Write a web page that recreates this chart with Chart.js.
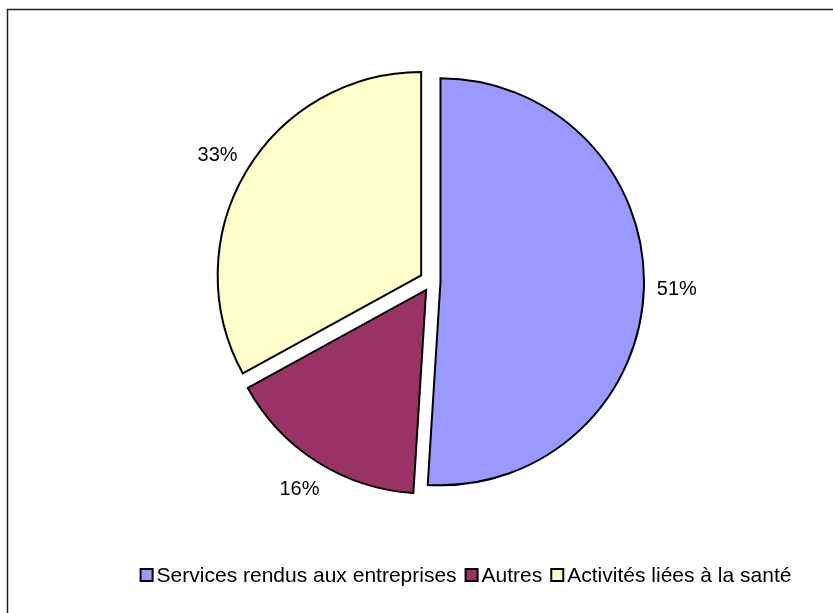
<!DOCTYPE html>
<html>
<head>
<meta charset="utf-8">
<script src="https://cdn.jsdelivr.net/npm/chart.js@4.4.0/dist/chart.umd.min.js"></script>
<style>
    html, body { margin: 0; padding: 0; background: #fff; }
    #wrap { position: relative; width: 833px; height: 613px; }
</style>
</head>
<body>
<div id="wrap"><canvas id="pieChart"></canvas></div>
<script>
// données du graphique
const categories = ['Services rendus aux entreprises', 'Autres', 'Activités liées à la santé'];
const valeurs = [51, 16, 33];
const couleurs = ['#9999FF', '#993366', '#FFFFCC'];

const police = '"Liberation Sans", Arial, sans-serif';

// éclatement des parts (px), appliqué à la main car l'offset de chart.js v4 agrandit aussi le rayon
const eclatement = [9, 10, 12];

const eclater = {
    id: 'eclater',
    afterDatasetsUpdate: function(chart) {
        const meta = chart.getDatasetMeta(0);
        meta.data.forEach(function(arc, i) {
            const mid = (arc.startAngle + arc.endAngle) / 2;
            arc.x += Math.cos(mid) * eclatement[i];
            arc.y += Math.sin(mid) * eclatement[i];
        });
    }
};

// cadre autour du graphique
const cadre = {
    id: 'cadre',
    beforeDraw: function(chart) {
        const ctx = chart.ctx;
        ctx.save();
        ctx.strokeStyle = '#222';
        ctx.lineWidth = 1.5;
        ctx.strokeRect(7.5, 9.5, 1000, 800);
        ctx.restore();
    }
};

// pourcentages à l'extérieur des parts
const etiquettes = {
    id: 'etiquettes',
    afterDatasetsDraw: function(chart) {
        const ctx = chart.ctx;
        const meta = chart.getDatasetMeta(0);
        const total = valeurs.reduce((a, b) => a + b, 0);
        ctx.save();
        ctx.font = '20px ' + police;
        ctx.fillStyle = '#000';
        ctx.textAlign = 'center';
        ctx.textBaseline = 'middle';
        meta.data.forEach(function(arc, i) {
            const mid = (arc.startAngle + arc.endAngle) / 2;
            const d = arc.outerRadius + 33;
            const pct = Math.round(valeurs[i] / total * 100) + '%';
            ctx.fillText(pct, arc.x + Math.cos(mid) * d, arc.y + Math.sin(mid) * d);
        });
        ctx.restore();
    }
};

// légende en bas, carrés serrés comme dans Excel
const legende = {
    id: 'legende',
    afterDraw: function(chart) {
        const ctx = chart.ctx;
        const box = 12, gapTexte = 4, gapItem = 9;
        const y = 575;
        ctx.save();
        ctx.font = '21px ' + police;
        ctx.textBaseline = 'middle';
        ctx.textAlign = 'left';
        let largeur = 0;
        categories.forEach(function(c, i) {
            largeur += box + gapTexte + ctx.measureText(c).width + (i < categories.length - 1 ? gapItem : 0);
        });
        let x = 466 - largeur / 2;
        categories.forEach(function(c, i) {
            ctx.fillStyle = couleurs[i];
            ctx.fillRect(x, y - box / 2, box, box);
            ctx.strokeStyle = '#000';
            ctx.lineWidth = 2;
            ctx.strokeRect(x, y - box / 2, box, box);
            x += box + gapTexte;
            ctx.fillStyle = '#000';
            ctx.fillText(c, x, y + 1);
            x += ctx.measureText(c).width + gapItem;
        });
        ctx.restore();
    }
};

const ctx = document.getElementById('pieChart').getContext('2d');
new Chart(ctx, {
    type: 'pie',
    data: {
        labels: categories,
        datasets: [{
            data: valeurs,
            backgroundColor: couleurs,
            borderColor: '#000',
            borderWidth: 2,
            borderJoinStyle: 'miter',
            radius: 203.5
        }]
    },
    options: {
        responsive: true,
        maintainAspectRatio: false,
        animation: false,
        layout: {
            padding: { top: 0, bottom: 50, left: 30, right: 0 }
        },
        plugins: {
            tooltip: { enabled: false },
            legend: { display: false }
        }
    },
    plugins: [eclater, cadre, etiquettes, legende]
});
</script>
</body>
</html>
